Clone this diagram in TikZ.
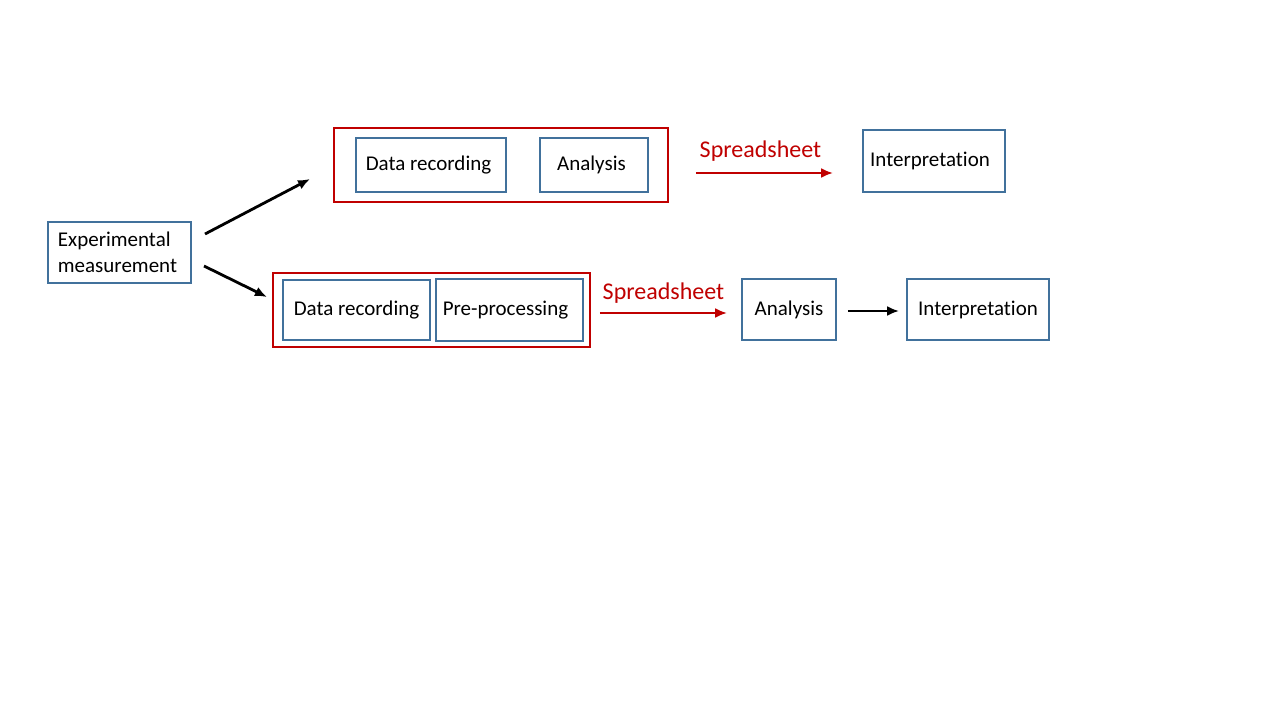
\documentclass[tikz,border=0pt]{standalone}
\usepackage{fontspec}
\setmainfont[Ligatures=NoCommon]{Carlito}
\usetikzlibrary{arrows.meta,calc}
\definecolor{boxblue}{HTML}{41719C}
\definecolor{grpred}{HTML}{C00000}
\begin{document}
\begin{tikzpicture}[x=1pt,y=-1pt,
  bbox/.style={draw=boxblue,line width=1.8pt,inner sep=0pt,font=\fontsize{21}{26}\selectfont,text=black},
  gbox/.style={draw=grpred,line width=1.8pt,inner sep=0pt},
  blk/.style={line width=2.8pt,-{Latex[length=12pt,width=10pt]}},
  redarr/.style={draw=grpred,line width=2.8pt,-{Latex[length=12pt,width=10pt]}},
  sslabel/.style={text=grpred,font=\fontsize{24}{26}\selectfont}]
\useasboundingbox[fill=white] (0,0) rectangle (1280,720);
% groups
\node[gbox,minimum width=334pt,minimum height=74pt] (g1) at (501,165) {};
\node[gbox,minimum width=317pt,minimum height=74pt] (g2) at (431.5,310) {};
% boxes
\node[bbox,minimum width=143pt,minimum height=61pt,align=left] (exp) at (119.5,252.5) {\hspace*{-4pt}Experimental\\\hspace*{-4pt}measurement};
\node[bbox,minimum width=150pt,minimum height=54pt] (dr1) at (431,165) {\hspace*{-5pt}Data recording};
\node[bbox,minimum width=108pt,minimum height=54pt] (an1) at (594,165) {\hspace*{-5pt}Analysis};
\node[bbox,minimum width=142pt,minimum height=62pt] (int1) at (934,161) {\hspace*{-8pt}Interpretation};
\node[bbox,minimum width=147pt,minimum height=60pt] (dr2) at (356.5,310) {Data recording};
\node[bbox,minimum width=147pt,minimum height=62pt] (pp) at (509.5,310) {\hspace*{-8pt}Pre-processing};
\node[bbox,minimum width=94pt,minimum height=61pt] (an2) at (789,309.5) {Analysis};
\node[bbox,minimum width=142pt,minimum height=61pt] (int2) at (978,309.5) {Interpretation};
% connector ends
\coordinate (e1s) at (205,234);
\coordinate (e1t) at (310,179);
\coordinate (e2s) at (204,266);
\coordinate (e2t) at (267,297);
\draw[blk] (e1s) -- (e1t);
\draw[blk] (e2s) -- (e2t);
\draw[redarr] ($(g1.east)+(27,8)$) -- node[sslabel,above=7pt,xshift=-4pt] (ss1) {Spreadsheet} ($(int1.west)+(-29,12)$);
\draw[redarr] ($(g2.east)+(9,3)$) -- node[sslabel,above=5pt] (ss2) {Spreadsheet} ($(an2.west)+(-14,3.5)$);
\draw[blk] ($(an2.east)+(11,1.5)$) -- ($(int2.west)+(-7,1.5)$);
\end{tikzpicture}
\end{document}
